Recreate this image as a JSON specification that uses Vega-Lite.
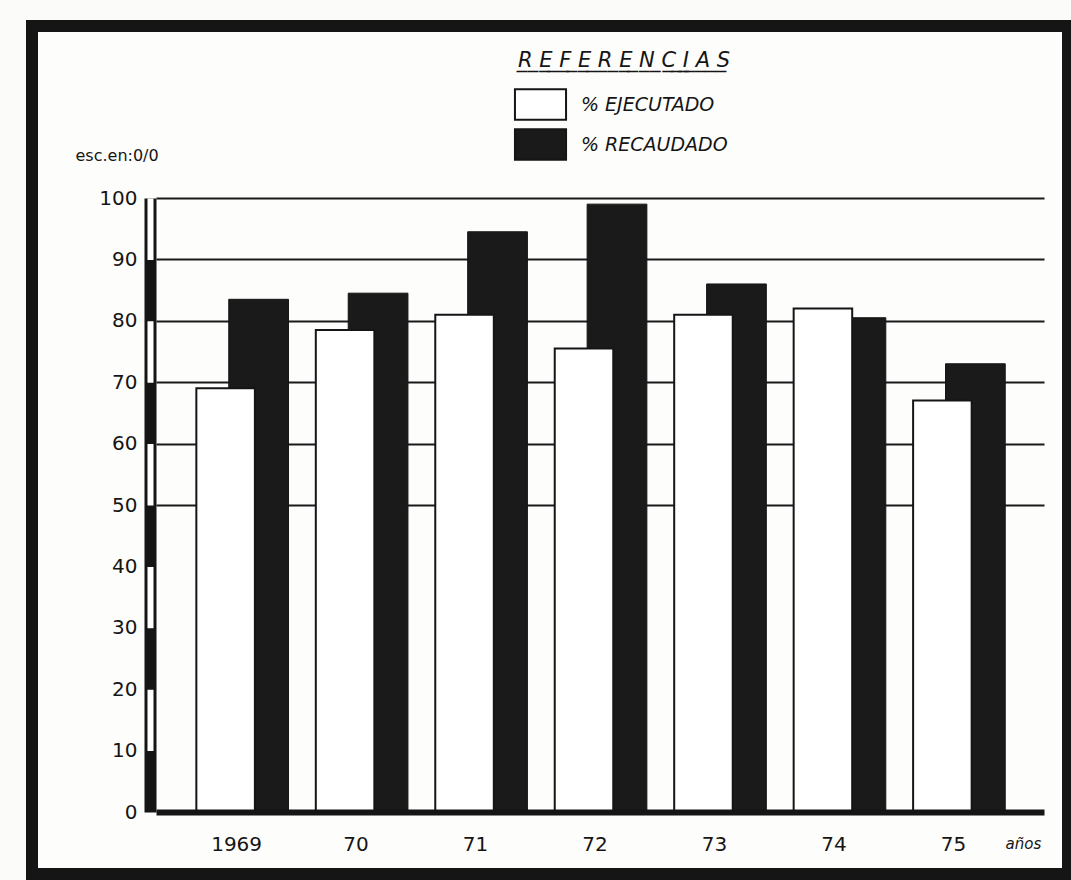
{
  "$schema": "https://vega.github.io/schema/vega-lite/v6.json",
  "autosize": {"type": "none"},
  "padding": {"left": 32, "top": 26, "right": 3, "bottom": 6},
  "width": 1036,
  "height": 848,
  "background": "#fbfbfa",
  "config": {
    "view": {"stroke": "#151515", "strokeWidth": 12, "fill": "#fdfdfc"},
    "font": "DejaVu Sans",
    "axis": {"labelColor": "#151515", "titleColor": "#151515", "labelFont": "DejaVu Sans", "titleFont": "DejaVu Sans"},
    "legend": {"labelColor": "#151515", "titleColor": "#151515"}
  },
  "data": {
    "values": [
      {"anio": "1969", "serie": "% EJECUTADO", "valor": 69},
      {"anio": "70", "serie": "% EJECUTADO", "valor": 78.5},
      {"anio": "71", "serie": "% EJECUTADO", "valor": 81},
      {"anio": "72", "serie": "% EJECUTADO", "valor": 75.5},
      {"anio": "73", "serie": "% EJECUTADO", "valor": 81},
      {"anio": "74", "serie": "% EJECUTADO", "valor": 82},
      {"anio": "75", "serie": "% EJECUTADO", "valor": 67},
      {"anio": "1969", "serie": "% RECAUDADO", "valor": 83.5},
      {"anio": "70", "serie": "% RECAUDADO", "valor": 84.5},
      {"anio": "71", "serie": "% RECAUDADO", "valor": 94.5},
      {"anio": "72", "serie": "% RECAUDADO", "valor": 99},
      {"anio": "73", "serie": "% RECAUDADO", "valor": 86},
      {"anio": "74", "serie": "% RECAUDADO", "valor": 80.5},
      {"anio": "75", "serie": "% RECAUDADO", "valor": 73}
    ]
  },
  "layer": [
    {
      "transform": [{"filter": "datum.serie === '% RECAUDADO'"}],
      "mark": {"type": "bar", "width": {"band": 0.5}, "xOffset": 17, "stroke": "#151515", "strokeWidth": 1},
      "encoding": {
        "x": {
          "field": "anio", "type": "nominal", "sort": null,
          "scale": {"range": [124, 1012], "paddingInner": 0, "paddingOuter": 0.2167},
          "axis": {
            "orient": "bottom", "offset": -62, "zindex": 1,
            "domainColor": "#151515", "domainWidth": 6,
            "ticks": false, "tickSize": 0,
            "labelPadding": 22, "labelFontSize": 20, "labelAngle": 0, "labelOffset": -5,
            "title": "años", "titleX": 973, "titleY": 31, "titleAlign": "left", "titleBaseline": "middle",
            "titleFontSize": 15, "titleFontWeight": "normal", "titleFontStyle": "italic"
          }
        },
        "y": {
          "field": "valor", "type": "quantitative",
          "scale": {"domain": [0, 100], "range": [786, 172], "nice": false, "zero": true},
          "axis": {
            "orient": "left", "offset": -118,
            "values": [0, 10, 20, 30, 40, 50, 60, 70, 80, 90, 100],
            "domainColor": "#151515", "domainWidth": 12,
            "ticks": false, "tickSize": 0, "grid": false,
            "labelPadding": 13, "labelFontSize": 20,
            "title": "esc.en:0/0", "titleAngle": 0, "titleX": -75, "titleY": 129,
            "titleAlign": "left", "titleBaseline": "middle", "titleFontSize": 16, "titleFontWeight": "normal"
          }
        },
        "color": {
          "field": "serie", "type": "nominal",
          "scale": {"domain": ["% EJECUTADO", "% RECAUDADO"], "range": ["#ffffff", "#1a1a1a"]},
          "legend": {
            "orient": "none", "legendX": 486, "legendY": 24, "padding": 0,
            "title": "R\u0332 \u0332E\u0332 \u0332F\u0332 \u0332E\u0332 \u0332R\u0332 \u0332E\u0332 \u0332N\u0332 \u0332C\u0332 \u0332I\u0332 \u0332A\u0332 \u0332S\u0332",
            "titleLimit": 500,
            "titleFontSize": 21, "titleFontStyle": "italic", "titleFontWeight": "normal",
            "titleAnchor": "middle", "titlePadding": 13,
            "symbolType": "M-1.31,-0.78H1.31V0.78H-1.31Z", "symbolSize": 1521,
            "symbolStrokeColor": "#151515", "symbolStrokeWidth": 2, "symbolOpacity": 1,
            "labelFontSize": 19, "labelFontStyle": "italic", "labelOffset": 20, "labelLimit": 300, "rowPadding": 0
          }
        }
      }
    },
    {
      "transform": [{"filter": "datum.serie === '% EJECUTADO'"}],
      "mark": {"type": "bar", "width": {"band": 0.49}, "xOffset": -16, "stroke": "#151515", "strokeWidth": 2},
      "encoding": {
        "x": {"field": "anio", "type": "nominal", "sort": null},
        "y": {
          "field": "valor", "type": "quantitative",
          "axis": {
            "orient": "left", "offset": -118,
            "values": [50, 60, 70, 80, 90, 100],
            "labels": false, "ticks": false, "title": null,
            "domainColor": "#ffffff", "domainWidth": 6, "domainDash": [61.4, 61.4], "domainDashOffset": 61.4,
            "grid": true, "gridColor": "#1a1a1a", "gridWidth": 2, "gridOpacity": 1
          }
        },
        "color": {"field": "serie", "type": "nominal"}
      }
    }
  ],
  "resolve": {"axis": {"y": "independent"}}
}
